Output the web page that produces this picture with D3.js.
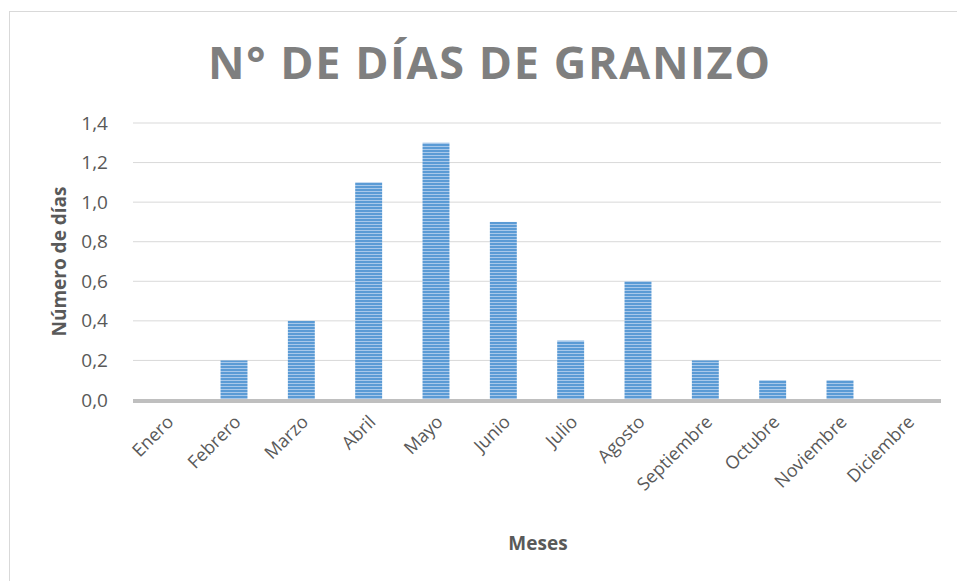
<!DOCTYPE html>
<html>
<head>
<meta charset="utf-8">
<script src="https://cdn.jsdelivr.net/npm/d3@7"></script>
<style>
  body { margin: 0; background: #fff; }
  svg { display: block; }
</style>
</head>
<body>
<div id="root"></div>
<script>
const months = ["Enero", "Febrero", "Marzo", "Abril", "Mayo", "Junio", "Julio",
  "Agosto", "Septiembre", "Octubre", "Noviembre", "Diciembre"];
const hailDays = [0, 0.2, 0.4, 1.1, 1.3, 0.9, 0.3, 0.6, 0.2, 0.1, 0.1, 0];
const yTicks = [0, 0.2, 0.4, 0.6, 0.8, 1.0, 1.2, 1.4];

const W = 957, H = 581;
const margin = { top: 123, right: 16, bottom: 181, left: 133 };
const width = W - margin.left - margin.right;
const height = H - margin.top - margin.bottom;

const svg = d3.select("#root").append("svg")
  .attr("width", W)
  .attr("height", H);

// striped fill like the original bars
const defs = svg.append("defs");
const pat = defs.append("pattern")
  .attr("id", "stripes")
  .attr("patternUnits", "userSpaceOnUse")
  .attr("width", 6).attr("height", 3);
pat.append("rect").attr("width", 6).attr("height", 3).attr("fill", "#a8c8ea");
pat.append("rect").attr("width", 6).attr("height", 2).attr("fill", "#5b9bd5");

// chart border
svg.append("rect")
  .attr("x", 9.5).attr("y", 11.5)
  .attr("width", W).attr("height", H)
  .attr("fill", "none")
  .attr("stroke", "#d9d9d9");

svg.append("text")
  .attr("x", 208).attr("y", 79)
  .attr("textLength", 562)
  .attr("lengthAdjust", "spacing")
  .attr("font-family", "'Open Sans', sans-serif")
  .attr("font-weight", "bold")
  .attr("font-size", 45)
  .attr("fill", "#7f7f7f")
  .text("N° DE DÍAS DE GRANIZO");

const x = d3.scaleBand().domain(months).range([0, width]).paddingInner(0.6).paddingOuter(0.3);
const y = d3.scaleLinear().domain([0, 1.4]).range([height, 0]);

const g = svg.append("g").attr("transform", `translate(${margin.left},${margin.top})`);

// gridlines
g.selectAll(".grid").data(yTicks.slice(1)).enter().append("line")
  .attr("x1", 0).attr("x2", width)
  .attr("y1", d => y(d)).attr("y2", d => y(d))
  .attr("stroke", "#d9d9d9").attr("stroke-width", 1);

// y axis labels
const fmt = d => d3.format(".1f")(d).replace(".", ",");
const yAxis = g.append("g").attr("transform", "translate(-25,0)")
  .call(d3.axisLeft(y).tickValues(yTicks).tickFormat(fmt).tickSize(0).tickPadding(0));
yAxis.select(".domain").remove();
yAxis.selectAll("text")
  .attr("font-family", "'Open Sans', sans-serif")
  .attr("font-size", 19)
  .attr("fill", "#595959");

// bars
g.selectAll(".bar").data(months).enter().append("rect")
  .attr("class", "bar")
  .attr("x", d => x(d))
  .attr("y", (d, i) => y(hailDays[i]))
  .attr("width", x.bandwidth())
  .attr("height", (d, i) => height - y(hailDays[i]))
  .attr("fill", "url(#stripes)");

// baseline
g.append("line")
  .attr("x1", 0).attr("x2", width)
  .attr("y1", y(0) + 1).attr("y2", y(0) + 1)
  .attr("stroke", "#bfbfbf").attr("stroke-width", 4);

// x axis
const xAxis = g.append("g").attr("transform", `translate(0,${height})`)
  .call(d3.axisBottom(x).tickSize(0).tickPadding(0));
xAxis.select(".domain").remove();
xAxis.selectAll("text")
  .attr("font-family", "'Open Sans', sans-serif")
  .attr("font-size", 18)
  .attr("fill", "#595959")
  .attr("text-anchor", "end")
  .attr("dy", null)
  .attr("y", 0)
  .attr("transform", "translate(8,23) rotate(-45)");

// axis titles
svg.append("text")
  .attr("transform", `translate(66,${margin.top + height / 2}) rotate(-90)`)
  .attr("text-anchor", "middle")
  .attr("font-family", "'Open Sans', sans-serif")
  .attr("font-weight", "bold")
  .attr("font-size", 19)
  .attr("fill", "#595959")
  .text("Número de días");

svg.append("text")
  .attr("x", 538).attr("y", 550)
  .attr("text-anchor", "middle")
  .attr("font-family", "'Open Sans', sans-serif")
  .attr("font-weight", "bold")
  .attr("font-size", 19)
  .attr("fill", "#595959")
  .text("Meses");
</script>
</body>
</html>
